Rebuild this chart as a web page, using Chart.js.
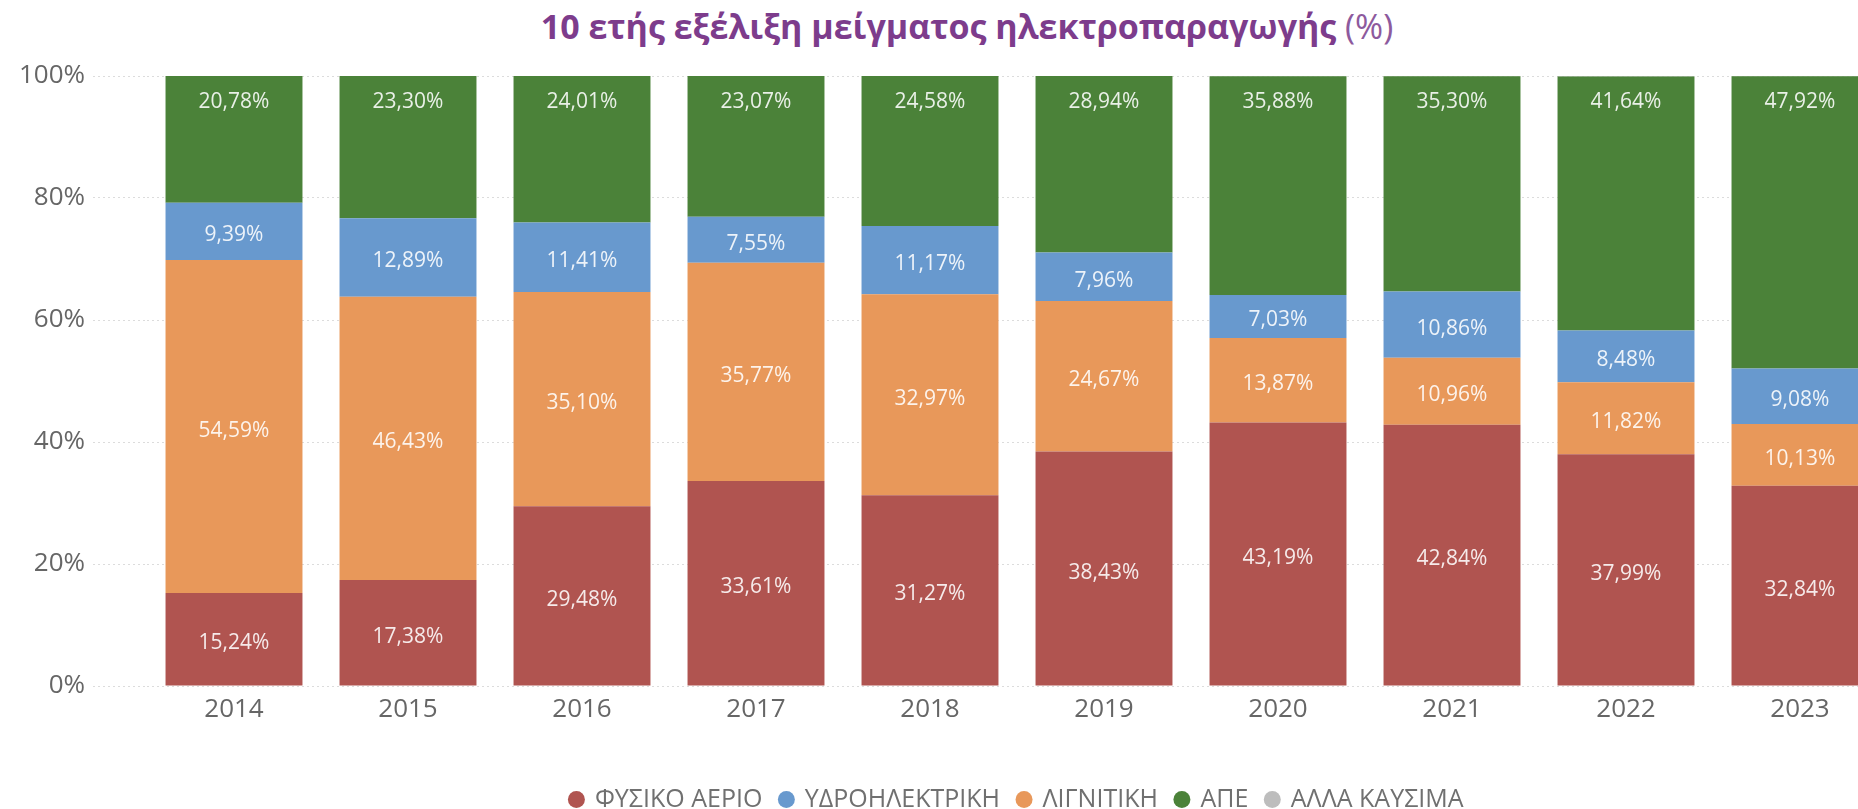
<!DOCTYPE html>
<html>
<head>
<meta charset="utf-8">
<script src="https://cdn.jsdelivr.net/npm/chart.js@4.4.1/dist/chart.umd.min.js"></script>
<style>
  html, body { margin: 0; padding: 0; background: #fff; overflow: hidden; width: 1858px; height: 809px; }
  #title {
    position: absolute; left: 0; top: 3px; width: 1934px; text-align: center;
    font-family: 'Open Sans', sans-serif; font-weight: 700; font-size: 34px; color: #7d3c8c;
    white-space: nowrap;
  }
  #title span { font-weight: 400; color: #8d5a9d; }
  #chart { position: absolute; left: 0; top: 0; }
</style>
</head>
<body>
<div id="title">10 ετής εξέλιξη μείγματος ηλεκτροπαραγωγής <span>(%)</span></div>
<canvas id="chart" width="1890" height="809"></canvas>
<script>
// years on the x axis
const years = ['2014', '2015', '2016', '2017', '2018', '2019', '2020', '2021', '2022', '2023'];

// shares in %
const gas     = [15.24, 17.38, 29.48, 33.61, 31.27, 38.43, 43.19, 42.84, 37.99, 32.84];
const lignite = [54.59, 46.43, 35.10, 35.77, 32.97, 24.67, 13.87, 10.96, 11.82, 10.13];
const hydro   = [9.39, 12.89, 11.41, 7.55, 11.17, 7.96, 7.03, 10.86, 8.48, 9.08];
const res     = [20.78, 23.30, 24.01, 23.07, 24.58, 28.94, 35.88, 35.30, 41.64, 47.92];
const other   = [0, 0, 0, 0, 0.01, 0, 0.03, 0.04, 0.07, 0.03];

const yTicks = [0, 20, 40, 60, 80, 100];

// stack order bottom -> top is gas, lignite, hydro, res, other; legend shows another order
const legendOrder = [0, 2, 1, 3, 4];

const fmt = v => v.toFixed(2).replace('.', ',') + '%';

// draws the value labels inside the bars
const barLabels = {
  id: 'barLabels',
  afterDatasetsDraw(chart) {
    const ctx = chart.ctx;
    ctx.save();
    ctx.font = '21px "Open Sans"';
    ctx.fillStyle = 'rgba(255,255,255,0.88)';
    ctx.textAlign = 'center';
    ctx.textBaseline = 'middle';
    chart.data.datasets.forEach((ds, i) => {
      if (!ds.labelPos) return;
      chart.getDatasetMeta(i).data.forEach((bar, j) => {
        const y = ds.labelPos === 'top' ? bar.y + 26 : (bar.y + bar.base) / 2 + 4;
        ctx.fillText(fmt(ds.data[j]), bar.x, y);
      });
    });
    ctx.restore();
  }
};

new Chart(document.getElementById('chart'), {
  type: 'bar',
  data: {
    labels: years,
    datasets: [
      { label: 'ΦΥΣΙΚΟ ΑΕΡΙΟ', data: gas, backgroundColor: '#b05450', labelPos: 'mid' },
      { label: 'ΛΙΓΝΙΤΙΚΗ', data: lignite, backgroundColor: '#e8985a', labelPos: 'mid' },
      { label: 'ΥΔΡΟΗΛΕΚΤΡΙΚΗ', data: hydro, backgroundColor: '#6899ce', labelPos: 'mid' },
      { label: 'ΑΠΕ', data: res, backgroundColor: '#4b8239', labelPos: 'top' },
      { label: 'ΑΛΛΑ ΚΑΥΣΙΜΑ', data: other, backgroundColor: '#bdbdbd' }
    ]
  },
  options: {
    responsive: false,
    animation: false,
    categoryPercentage: 1,
    barPercentage: 0.787,
    layout: { padding: { top: 76, left: 0, right: 3, bottom: -13 } },
    plugins: {
      tooltip: { enabled: false },
      legend: {
        position: 'bottom',
        fullSize: false,
        labels: {
          usePointStyle: true,
          pointStyle: 'circle',
          boxWidth: 12,
          boxHeight: 12,
          padding: 18,
          color: '#707070',
          font: { family: 'Open Sans', size: 25 },
          sort: (a, b) => legendOrder.indexOf(a.datasetIndex) - legendOrder.indexOf(b.datasetIndex)
        }
      }
    },
    scales: {
      x: {
        stacked: true,
        grid: { display: false },
        border: { display: false },
        ticks: { color: '#666', padding: 0, font: { family: 'Open Sans', size: 26 } },
        afterFit: scale => { scale.height = 83; }
      },
      y: {
        stacked: true,
        min: 0,
        max: 100,
        afterBuildTicks: scale => { scale.ticks = yTicks.map(v => ({ value: v })); },
        afterFit: scale => { scale.width = 147; },
        border: { display: false, dash: [2, 3] },
        grid: { color: '#dcdcdc', tickColor: '#dcdcdc', tickLength: 54, tickBorderDash: [2, 3] },
        ticks: { color: '#666', padding: 8, font: { family: 'Open Sans', size: 26 }, callback: v => v + '%' }
      }
    }
  },
  plugins: [barLabels]
});
</script>
</body>
</html>
